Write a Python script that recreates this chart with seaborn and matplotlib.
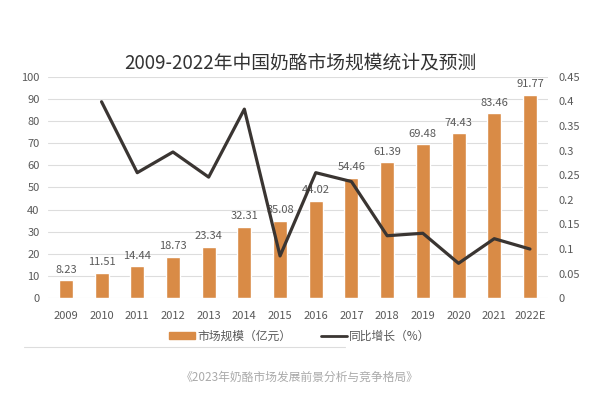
import numpy as np
import pandas as pd
import matplotlib
matplotlib.use("Agg")
import matplotlib.pyplot as plt
import seaborn as sns
from matplotlib.lines import Line2D
from matplotlib.patches import Patch

sns.set_theme(style="white")
plt.rcParams['font.family'] = ['Noto Sans CJK SC', 'DejaVu Sans']

# --- dados ---
anos = ['2009', '2010', '2011', '2012', '2013', '2014', '2015',
        '2016', '2017', '2018', '2019', '2020', '2021', '2022E']
mercado = [8.23, 11.51, 14.44, 18.73, 23.34, 32.31, 35.08,
           44.02, 54.46, 61.39, 69.48, 74.43, 83.46, 91.77]
# crescimento anual (a partir de 2010)
crescimento = [0.399, 0.255, 0.297, 0.246, 0.384, 0.086,
               0.255, 0.237, 0.127, 0.132, 0.071, 0.121, 0.100]

df = pd.DataFrame({'ano': anos, 'mercado': mercado})
df_cresc = pd.DataFrame({'pos': np.arange(1, len(anos)), 'cresc': crescimento})

cor_barra = '#D98B46'
cor_linha = '#3A3532'
cor_texto = '#595959'

fig = plt.figure(figsize=(6, 3.93), dpi=100)
ax = fig.add_axes([0.08, 0.241, 0.833, 0.564])

sns.barplot(data=df, x='ano', y='mercado', color=cor_barra, width=0.39,
            saturation=1, ax=ax)
ax.set_ylim(0, 100)
ax.set_yticks(range(0, 101, 10))
ax.yaxis.grid(True, color='#DDDDDD', linewidth=0.8)
ax.set_axisbelow(True)
ax.set_xlabel('')
ax.set_ylabel('')
ax.tick_params(axis='both', labelsize=8, colors=cor_texto, length=0, pad=6)
ax.tick_params(axis='x', pad=9)
for s in ax.spines.values():
    s.set_visible(False)

# rótulos das barras
for i, v in enumerate(mercado):
    ax.text(i, v + 2.5, f'{v:.2f}', ha='center', va='bottom',
            fontsize=8, color=cor_texto)

ax2 = ax.twinx()
sns.lineplot(data=df_cresc, x='pos', y='cresc', color=cor_linha,
             linewidth=2.3, ax=ax2)
ax2.set_ylim(0, 0.45)
ax2.set_yticks(np.arange(0, 0.451, 0.05))
ax2.set_yticklabels(['0', '0.05', '0.1', '0.15', '0.2', '0.25',
                     '0.3', '0.35', '0.4', '0.45'])
ax2.set_xlim(-0.5, len(anos) - 0.5)
ax2.set_xlabel('')
ax2.set_ylabel('')
ax2.tick_params(axis='y', labelsize=8, colors=cor_texto, length=0, pad=8)
for s in ax2.spines.values():
    s.set_visible(False)

fig.text(0.5, 0.84, '2009-2022年中国奶酪市场规模统计及预测',
         ha='center', va='center', fontsize=13.5, color='#333333')

handles = [Patch(color=cor_barra, label='市场规模（亿元）'),
           Line2D([0], [0], color=cor_linha, linewidth=2, label='同比增长（%）')]
fig.legend(handles=handles, loc='center', bbox_to_anchor=(0.5, 0.145),
           ncol=2, frameon=False, fontsize=8.5, handlelength=2.2,
           handleheight=0.5, columnspacing=2.5, handletextpad=0.2,
           labelcolor=cor_texto)

fig.add_artist(Line2D([0.04, 0.575], [0.117, 0.117], color='#DDDDDD',
                      linewidth=0.8))

fig.text(0.5, 0.04, '《2023年奶酪市场发展前景分析与竞争格局》',
         ha='center', va='center', fontsize=8.5, color='#AAAAAA')

fig.savefig('out.png', dpi=100, facecolor='white')
